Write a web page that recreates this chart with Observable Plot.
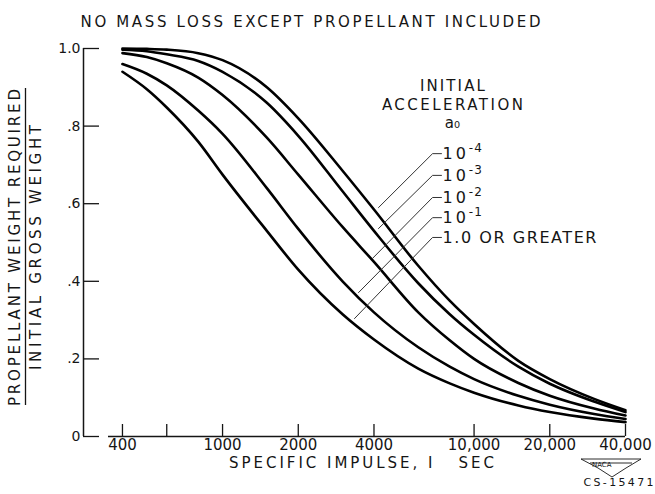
<!DOCTYPE html>
<html><head><meta charset="utf-8">
<script src="https://cdn.jsdelivr.net/npm/d3@7"></script>
<script src="https://cdn.jsdelivr.net/npm/@observablehq/plot@0.6"></script>
<style>
html,body{margin:0;padding:0;background:#fff;}
#chart{width:655px;height:494px;}
</style></head><body><div id="chart"></div>
<script>
// Specific impulse (sec) sample points
const impulse = [400,500,600,800,1000,1500,2000,3000,4000,6000,8000,10000,15000,20000,30000,40000];
// Propellant weight / initial gross weight, per initial acceleration a0
const accel1e4 = [1.0,0.999,0.997,0.988,0.97,0.9,0.82,0.685,0.585,0.44,0.35,0.29,0.195,0.148,0.097,0.068];
const accel1e3 = [0.997,0.993,0.985,0.968,0.94,0.86,0.775,0.632,0.53,0.395,0.315,0.262,0.18,0.136,0.09,0.063];
const accel1e2 = [0.988,0.978,0.962,0.925,0.88,0.77,0.675,0.54,0.45,0.32,0.248,0.2,0.138,0.105,0.072,0.054];
const accel1e1 = [0.96,0.935,0.905,0.84,0.78,0.64,0.535,0.40,0.32,0.23,0.18,0.148,0.105,0.082,0.058,0.045];
const accel1 = [0.94,0.895,0.848,0.76,0.675,0.53,0.43,0.315,0.25,0.175,0.137,0.113,0.08,0.063,0.046,0.037];
const seriesBase = ["10","10","10","10","1.0 OR GREATER"];
const seriesExp = ["-4","-3","-2","-1",""];
const seriesValues = [accel1e4, accel1e3, accel1e2, accel1e1, accel1];

// Axis ticks
const xTicks = [400,600,1000,2000,4000,10000,20000,40000];
const xTickLabels = ["400","","1000","2000","4000","10,000","20,000","40,000"];
const yTicks = [0,0.2,0.4,0.6,0.8,1.0];
const yTickLabels = ["0",".2",".4",".6",".8","1.0"];

// Texts
const titleText = "NO MASS LOSS EXCEPT PROPELLANT INCLUDED";
const xTitle = "SPECIFIC IMPULSE, I\u00a0\u00a0\u00a0SEC";
const yTitleTop = "PROPELLANT WEIGHT REQUIRED";
const yTitleBottom = "INITIAL GROSS WEIGHT";
const legendHeader = ["INITIAL","ACCELERATION","a₀"];
const legendHeaderV = [0.902,0.853,0.807];
const legendHeaderI = 8200;
// Legend label anchors (data units) and leader line ends
const legendLabelI = 7490;
const leaderKneeI = 6838;
const leaderStartI = 7420;
const legendV = [0.729,0.673,0.616,0.564,0.513];
const leaderEndI = [4169,4169,3947,3473,3347];
const leaderEndV = [0.590,0.536,0.459,0.371,0.304];

const xMin = 280, xMax = 40000, xAxisStart = 352;

const seriesNames = seriesBase.map((b, k) => b + seriesExp[k]);
const rows = [];
seriesNames.forEach((s, k) => impulse.forEach((I, i) => rows.push({s, I, v: seriesValues[k][i]})));

const leaders = [];
seriesNames.forEach((s, k) => {
  leaders.push({s, I: leaderStartI, v: legendV[k]});
  leaders.push({s, I: leaderKneeI, v: legendV[k]});
  leaders.push({s, I: leaderEndI[k], v: leaderEndV[k]});
});
const legendRows = seriesNames.map((s, k) => ({s, k, I: legendLabelI, v: legendV[k]}));
const headerRows = legendHeader.map((t, k) => ({t, I: legendHeaderI, v: legendHeaderV[k]}));

const ink = "#151515";
const chart = Plot.plot({
  width: 655, height: 494,
  marginLeft: 83, marginRight: 30, marginTop: 48, marginBottom: 58,
  style: {fontFamily: "DejaVu Sans", color: ink, background: "#fff"},
  x: {type: "log", domain: [xMin, xMax]},
  y: {domain: [0, 1]},
  marks: [
    Plot.axisX({ticks: xTicks, tickSize: -12, tickPadding: 15, fontSize: 15, label: null,
      tickFormat: d => xTickLabels[xTicks.indexOf(d)], strokeWidth: 1.3}),
    Plot.axisY({ticks: yTicks, tickSize: -16, tickPadding: 19, fontSize: 14, label: null,
      tickFormat: d => yTickLabels[yTicks.indexOf(d)], strokeWidth: 1.3}),
    Plot.ruleY([0], {x1: xAxisStart, x2: xMax, stroke: ink, strokeWidth: 1.5}),
    Plot.ruleX([xMin], {y1: 0, y2: 1, stroke: ink, strokeWidth: 1.5}),
    Plot.line(rows, {x: "I", y: "v", z: "s", stroke: "#000", strokeWidth: 2.6, curve: "monotone-x"}),
    Plot.line(leaders, {x: "I", y: "v", z: "s", stroke: "#333", strokeWidth: 1}),
    Plot.text(legendRows, {x: "I", y: "v", text: d => seriesBase[d.k], textAnchor: "start", fontSize: 16, ariaLabel: () => "legend-labels"}),
    Plot.text(headerRows, {x: "I", y: "v", text: "t", fontSize: 15, ariaLabel: () => "legend-header"}),
    Plot.text([titleText], {text: d => d, frameAnchor: "top", dx: -44, dy: -32, fontSize: 15, ariaLabel: () => "title"}),
    Plot.text([xTitle], {text: d => d, frameAnchor: "bottom", dx: 7, dy: 31, fontSize: 15, ariaLabel: () => "x-title"}),
    Plot.text([yTitleTop], {text: d => d, frameAnchor: "left", textAnchor: "middle", rotate: -90, dx: -68, dy: 5, fontSize: 15, ariaLabel: () => "y-title-top"}),
    Plot.ruleX([xMin], {y1: 0.08, y2: 0.897, dx: -58, stroke: ink, strokeWidth: 1.3}),
    Plot.text([yTitleBottom], {text: d => d, frameAnchor: "left", textAnchor: "middle", rotate: -90, dx: -47, dy: 5, fontSize: 15, ariaLabel: () => "y-title-bottom"}),
    Plot.text(["CS-15471"], {text: d => d, frameAnchor: "bottom-right", textAnchor: "end", dx: 28, dy: 49, fontSize: 11, ariaLabel: () => "code"}),
    Plot.text(["NACA"], {text: d => d, frameAnchor: "bottom-right", dx: -14, dy: 30, fontSize: 7})
  ]
});

function fit(label, lengths) {
  d3.select(chart).selectAll(`[aria-label="${label}"]`).each(function(d, i) {
    const L = Array.isArray(lengths) ? lengths[i] : lengths;
    const el = this.tagName.toLowerCase() === "text" ? this : this.querySelector("text");
    if (L && el) { el.setAttribute("textLength", L); el.setAttribute("lengthAdjust", "spacing"); }
  });
}
fit("title", 460);
fit("x-title", 265);
fit("y-title-top", 317);
fit("y-title-bottom", 245);
fit("legend-header", [65, 141, null]);
fit("code", 70);

// Legend labels: "10" with a raised exponent, "1.0 OR GREATER" letter-spaced
d3.select(chart).selectAll('[aria-label="legend-labels"]').each(function(d, i) {
  const el = d3.select(this);
  if (seriesExp[i]) {
    el.text(null);
    el.append("tspan").style("letter-spacing", "3px").text(seriesBase[i]);
    el.append("tspan").attr("dy", -7).attr("font-size", 12).style("letter-spacing", "1px").text(seriesExp[i]);
  } else {
    el.attr("textLength", 154).attr("lengthAdjust", "spacing");
  }
});

// NACA emblem outline
d3.select(chart).append("path")
  .attr("d", "M581,459 L641,459 L626,468 L612,477 L598,468 Z M590,463 L632,463")
  .attr("fill", "none").attr("stroke", ink).attr("stroke-width", 0.9);

document.getElementById("chart").appendChild(chart);
</script></body></html>
